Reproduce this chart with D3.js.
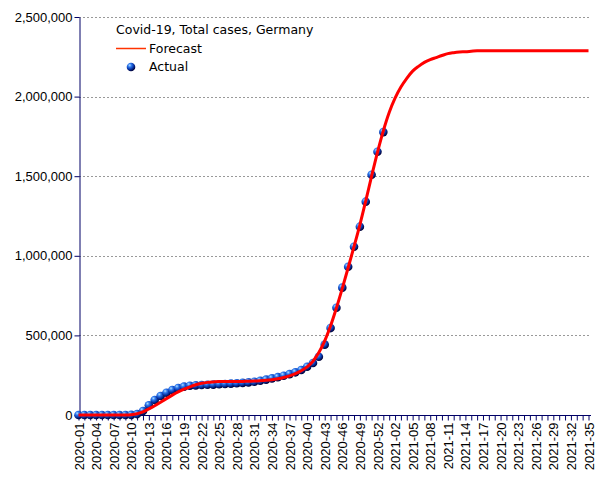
<!DOCTYPE html>
<html><head><meta charset="utf-8">
<script src="https://cdn.jsdelivr.net/npm/d3@7"></script>
<style>body{margin:0;background:#fff}svg{display:block}</style>
</head><body><svg id="c" width="605" height="480"></svg>
<script>
const weeks = ["2020-01","2020-02","2020-03","2020-04","2020-05","2020-06","2020-07","2020-08","2020-09","2020-10",
"2020-11","2020-12","2020-13","2020-14","2020-15","2020-16","2020-17","2020-18","2020-19","2020-20",
"2020-21","2020-22","2020-23","2020-24","2020-25","2020-26","2020-27","2020-28","2020-29","2020-30",
"2020-31","2020-32","2020-33","2020-34","2020-35","2020-36","2020-37","2020-38","2020-39","2020-40",
"2020-41","2020-42","2020-43","2020-44","2020-45","2020-46","2020-47","2020-48","2020-49","2020-50",
"2020-51","2020-52","2020-53","2021-01","2021-02","2021-03","2021-04","2021-05","2021-06","2021-07",
"2021-08","2021-09","2021-10","2021-11","2021-12","2021-13","2021-14","2021-15","2021-16","2021-17",
"2021-18","2021-19","2021-20","2021-21","2021-22","2021-23","2021-24","2021-25","2021-26","2021-27",
"2021-28","2021-29","2021-30","2021-31","2021-32","2021-33","2021-34","2021-35"];
const actual = [0,0,0,0,0,0,0,0,100,1000,5800,25000,61000,94000,119000,140000,157000,170000,178000,184000,
186000,188000,190000,191000,193000,195000,197000,199000,202000,205000,209000,215000,222000,230000,238000,
247000,257000,268000,283000,303000,327000,366000,442000,546000,674000,800000,931000,1057000,1183000,
1340000,1509000,1654000,1777000];
const forecast = [0,0,0,0,0,0,0,0,0,2000,8000,20000,38000,58000,80000,103000,125000,145000,162000,177000,
190000,199000,205000,208000,210000,210000,210000,210000,211000,212000,213000,215000,218000,222000,228000,
236000,246000,260000,278000,302000,338000,392000,465000,560000,672000,795000,925000,1058000,1195000,
1345000,1500000,1650000,1785000,1900000,1990000,2060000,2115000,2160000,2190000,2215000,2232000,2245000,
2258000,2270000,2276000,2280000,2282000,2285000,2288000,2288000,2288000,2288000,2288000,2288000,2288000,
2288000,2288000,2288000,2288000,2288000,2288000,2288000,2288000,2288000,2288000,2288000,2288000,2288000];
const yTicks = [0,500000,1000000,1500000,2000000,2500000];
const title = "Covid-19, Total cases, Germany";
const seriesNames = ["Forecast","Actual"];

const svg = d3.select("#c");
const navy = "#000066";
const x = d3.scalePoint().domain(weeks).range([78.5, 588.5]);
const y = d3.scaleLinear().domain([0,2500000]).range([415,17]);

const defs = svg.append("defs");
const g = defs.append("radialGradient").attr("id","ball").attr("cx","35%").attr("cy","30%").attr("r","70%").attr("fx","35%").attr("fy","30%");
g.append("stop").attr("offset","0%").attr("stop-color","#b0e0ff");
g.append("stop").attr("offset","30%").attr("stop-color","#2f78ee");
g.append("stop").attr("offset","65%").attr("stop-color","#0836a8");
g.append("stop").attr("offset","100%").attr("stop-color","#000038");

// grid
svg.append("g").selectAll("line").data(yTicks.filter(d=>d>0)).join("line")
  .attr("x1",79).attr("x2",591).attr("y1",d=>Math.round(y(d))+0.5).attr("y2",d=>Math.round(y(d))+0.5)
  .attr("stroke","#999").attr("stroke-dasharray","2,2");

// y axis
const ya = svg.append("g").attr("transform","translate(79.5,0)")
  .call(d3.axisLeft(y).tickValues(yTicks).tickFormat(d3.format(",")).tickSize(5).tickSizeOuter(0));
ya.select(".domain").attr("stroke",navy);
ya.selectAll(".tick line").attr("stroke",navy);
ya.selectAll(".tick text").attr("font-family","Liberation Sans, Arial, sans-serif").attr("font-size",13).attr("fill","#000").attr("x",-7);

// x axis
const xa = svg.append("g").attr("transform","translate(0,415.5)")
  .call(d3.axisBottom(x).tickSize(5).tickSizeOuter(0).tickFormat((d,i)=> i%3===0 ? d : ""));
xa.select(".domain").attr("stroke",navy).attr("d","M79,0H591");
xa.selectAll(".tick line").attr("stroke",navy);
xa.selectAll(".tick text").attr("font-family","Liberation Sans, Arial, sans-serif").attr("font-size",13).attr("fill","#000")
  .attr("transform","rotate(-90)").attr("text-anchor","end").attr("dy","0.35em").attr("x",-7).attr("y",0);

// points
svg.append("g").selectAll("circle").data(actual).join("circle")
  .attr("cx",(d,i)=>x(weeks[i])).attr("cy",d=>y(d)).attr("r",4.3).attr("fill","url(#ball)");

// forecast line
const line = d3.line().x((d,i)=>x(weeks[i])).y(d=>y(d)).curve(d3.curveMonotoneX);
svg.append("path").datum(forecast).attr("d",line).attr("fill","none").attr("stroke","#ff0000").attr("stroke-width",3);

// legend
const lf = "DejaVu Sans, Verdana, sans-serif";
svg.append("text").attr("x",116).attr("y",34).attr("font-family",lf).attr("font-size",12.5).attr("fill","#000").text(title);
svg.append("line").attr("x1",116).attr("x2",146).attr("y1",48.5).attr("y2",48.5).attr("stroke","#ff3300").attr("stroke-width",1.5);
svg.append("text").attr("x",149).attr("y",53).attr("font-family",lf).attr("font-size",12.5).attr("fill","#000").text(seriesNames[0]);
svg.append("circle").attr("cx",131).attr("cy",67).attr("r",4.3).attr("fill","url(#ball)");
svg.append("text").attr("x",149).attr("y",71).attr("font-family",lf).attr("font-size",12.5).attr("fill","#000").text(seriesNames[1]);
</script></body></html>
